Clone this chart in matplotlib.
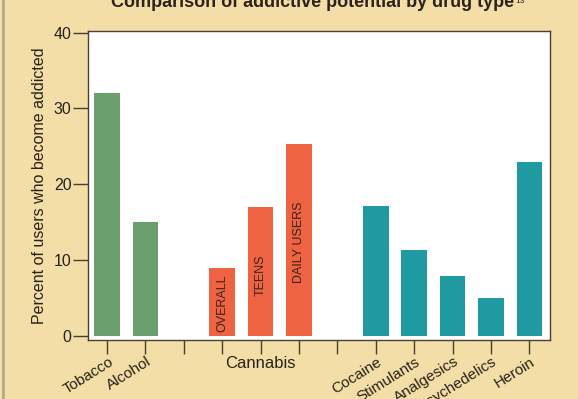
import matplotlib
matplotlib.use("Agg")
import matplotlib.pyplot as plt
from matplotlib.lines import Line2D

plt.rcParams['font.family'] = ['Liberation Sans', 'DejaVu Sans']

# ---- data ----
categories = ["Tobacco", "Alcohol", "", "", "Cannabis", "", "", "Cocaine",
              "Stimulants", "Analgesics", "Psychedelics", "Heroin"]
bar_labels = ["Tobacco", "Alcohol", "Overall", "Teens", "Daily users", "Cocaine",
              "Stimulants", "Analgesics", "Psychedelics", "Heroin"]
bar_slots = [0, 1, 3, 4, 5, 7, 8, 9, 10, 11]
values = [32.0, 15.0, 9.0, 17.0, 25.3, 17.2, 11.3, 7.9, 5.0, 23.0]
groups = ["legal", "legal", "cannabis", "cannabis", "cannabis", "other", "other",
          "other", "other", "other"]
inner_text = {"Overall": "OVERALL", "Teens": "TEENS", "Daily users": "DAILY USERS"}
inner_text_y = {"Overall": 4.3, "Teens": 8.0, "Daily users": 12.4}
yticks = [0, 10, 20, 30, 40]
ylabel = "Percent of users who become addicted"
title = "Comparison of addictive potential by drug type"
title_ref = "13"

colors = {"legal": "#6A9E6C", "cannabis": "#EE6342", "other": "#1E9AA0"}
bg = "#F2DEA6"
edge = "#4a3f33"
txt = "#2a2118"

fig = plt.figure(figsize=(5.78, 3.99), dpi=100, facecolor=bg)
ax = fig.add_axes([88.3 / 578, 1 - 340 / 399, (550 - 88.3) / 578, (340 - 30.7) / 399])
ax.set_facecolor("white")

bars = ax.bar(bar_slots, values, width=0.665,
              color=[colors[g] for g in groups], zorder=2)

for slot, lab, v in zip(bar_slots, bar_labels, values):
    if lab in inner_text:
        ax.text(slot, inner_text_y[lab], inner_text[lab], rotation=90,
                ha="center", va="center", fontsize=9, color="#3a2415", zorder=3)

ax.set_xlim(-0.49, 11.54)
ax.set_ylim(-0.53, 40.26)
ax.set_yticks(yticks)
ax.set_yticklabels([str(t) for t in yticks], fontsize=11.5, color=txt)
ax.set_xticks(range(len(categories)))
ax.set_xticklabels([])

for s in ax.spines.values():
    s.set_color(edge)
    s.set_linewidth(1.0)
ax.tick_params(axis="y", direction="out", length=11, width=1.0, color=edge, pad=1)
ax.tick_params(axis="x", direction="out", length=10, width=1.0, color=edge)

# category labels
for i, c in enumerate(categories):
    if not c:
        continue
    if c == "Cannabis":
        ax.annotate(c, xy=(i, 0), xycoords=("data", "axes fraction"),
                    xytext=(0, -17), textcoords="offset points",
                    ha="center", va="center", fontsize=12, color=txt,
                    annotation_clip=False)
    else:
        ax.annotate(c, xy=(i + 0.03, 0), xycoords=("data", "axes fraction"),
                    xytext=(0, -10.5), textcoords="offset points",
                    rotation=32, rotation_mode="anchor", ha="right", va="top",
                    fontsize=11, color=txt, annotation_clip=False)

ax.set_ylabel(ylabel, fontsize=11.5, color=txt, labelpad=5)

t = fig.text(0.541, 1 - 7.3 / 399, title, ha="center", va="baseline",
             fontsize=13, fontweight="bold", color="#2b2219")
fig.canvas.draw()
bb = t.get_window_extent()
fig.text((bb.x1 + 1) / fig.bbox.width, 1 - 3.0 / 399, title_ref, ha="left",
         va="baseline", fontsize=6, color="#2b2219")

fig.add_artist(Line2D([2.5 / 578, 2.5 / 578], [0, 1], transform=fig.transFigure,
                      color="#b5a68c", linewidth=2))

fig.savefig("out.png", dpi=100, facecolor=bg)
